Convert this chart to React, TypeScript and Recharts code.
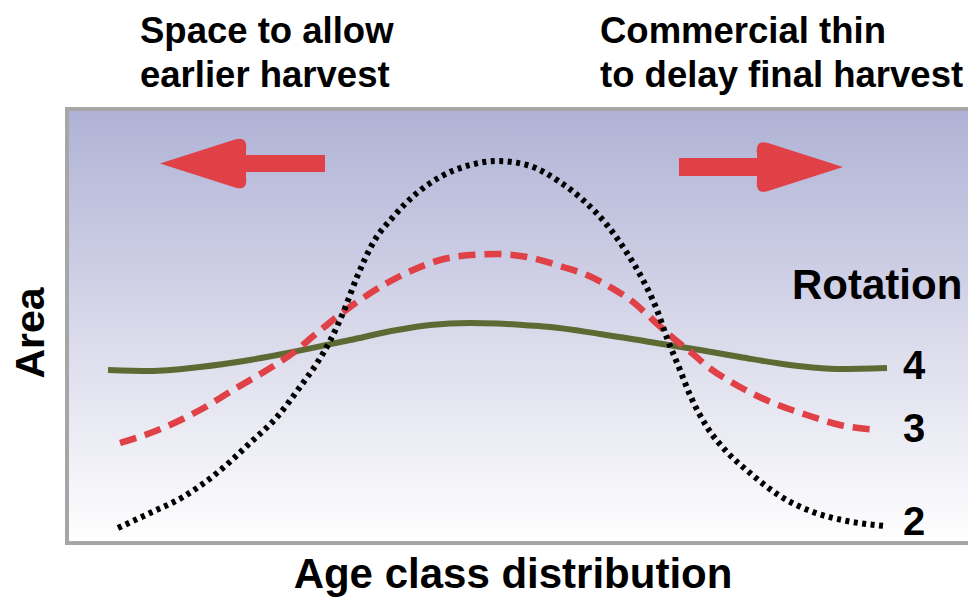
import React from 'react';
import { LineChart, Line, XAxis, YAxis, ReferenceArea, ReferenceLine, ReferenceDot } from 'recharts';

// curve points: x = age class position, y = area
const rotation2 = [
  { x: 49, y: 13 }, { x: 81, y: 28 }, { x: 114, y: 44 }, { x: 148, y: 68 }, { x: 181, y: 98 },
  { x: 208, y: 124 }, { x: 231, y: 154 }, { x: 248, y: 178 }, { x: 261, y: 200 }, { x: 274, y: 228 },
  { x: 288, y: 264 }, { x: 304, y: 298 }, { x: 324, y: 324 }, { x: 348, y: 348 }, { x: 371, y: 364 },
  { x: 401, y: 376 }, { x: 428, y: 380 }, { x: 458, y: 376 }, { x: 491, y: 359 }, { x: 514, y: 341 },
  { x: 538, y: 316 }, { x: 558, y: 288 }, { x: 574, y: 261 }, { x: 588, y: 231 }, { x: 598, y: 203 },
  { x: 611, y: 171 }, { x: 621, y: 146 }, { x: 638, y: 114 }, { x: 658, y: 89 }, { x: 681, y: 68 },
  { x: 711, y: 45 }, { x: 744, y: 29 }, { x: 778, y: 20 }, { x: 816, y: 15 },
];

const rotation3 = [
  { x: 51, y: 98 }, { x: 84, y: 109 }, { x: 131, y: 131 }, { x: 164, y: 151 }, { x: 198, y: 171 },
  { x: 224, y: 188 }, { x: 248, y: 208 }, { x: 281, y: 234 }, { x: 294, y: 243 }, { x: 318, y: 258 },
  { x: 344, y: 271 }, { x: 371, y: 281 }, { x: 401, y: 286 }, { x: 428, y: 287 }, { x: 458, y: 284 },
  { x: 494, y: 274 }, { x: 518, y: 266 }, { x: 541, y: 254 }, { x: 564, y: 239 }, { x: 584, y: 221 },
  { x: 604, y: 203 }, { x: 624, y: 187 }, { x: 638, y: 175 }, { x: 671, y: 154 }, { x: 704, y: 138 },
  { x: 738, y: 126 }, { x: 771, y: 116 }, { x: 808, y: 111 },
];

const rotation4 = [
  { x: 39, y: 171 }, { x: 81, y: 170 }, { x: 131, y: 174 }, { x: 181, y: 181 }, { x: 224, y: 189 },
  { x: 281, y: 201 }, { x: 328, y: 211 }, { x: 361, y: 216 }, { x: 401, y: 218 }, { x: 428, y: 217.5 },
  { x: 461, y: 215.5 }, { x: 481, y: 214 }, { x: 531, y: 207 }, { x: 581, y: 199 }, { x: 631, y: 191 },
  { x: 671, y: 184 }, { x: 721, y: 176 }, { x: 771, y: 172 }, { x: 818, y: 173 },
];

// arrows: shaft from tail to head, tip position
const leftArrow = { tail: 256, head: 168, tip: 91, y: 377.5 };
const rightArrow = { tail: 610, head: 700, tip: 774, y: 374 };

const RED = '#df4146';

const leftHead = (p: any) => (
  <path
    d={`M${p.cx},${p.cy} L${p.cx + 75},${p.cy - 24} Q${p.cx + 88},${p.cy - 28} ${p.cx + 86},${p.cy - 13} L${p.cx + 86},${p.cy + 13} Q${p.cx + 88},${p.cy + 28} ${p.cx + 75},${p.cy + 24} Z`}
    fill={RED}
  />
);

const rightHead = (p: any) => (
  <path
    d={`M${p.cx},${p.cy} L${p.cx - 75},${p.cy - 24} Q${p.cx - 88},${p.cy - 28} ${p.cx - 86},${p.cy - 13} L${p.cx - 86},${p.cy + 13} Q${p.cx - 88},${p.cy + 28} ${p.cx - 75},${p.cy + 24} Z`}
    fill={RED}
  />
);

const font = '"Liberation Sans", Arial, sans-serif';
const txt: React.CSSProperties = {
  position: 'absolute',
  fontFamily: font,
  fontWeight: 'bold',
  color: '#000',
  whiteSpace: 'nowrap',
};

export default function App() {
  return (
    <div style={{ position: 'relative', width: 968, height: 597, overflow: 'hidden', background: '#fff' }}>
      <style>{'body{margin:0}'}</style>
      <LineChart width={968} height={597} margin={{ top: 111, right: 0, bottom: 56, left: 69 }}>
        <defs>
          <linearGradient id="bgGrad" x1="0" y1="0" x2="0" y2="1">
            <stop offset="0%" stopColor="#afb2d5" />
            <stop offset="55%" stopColor="#dcdcec" />
            <stop offset="100%" stopColor="#ffffff" />
          </linearGradient>
        </defs>
        <XAxis type="number" dataKey="x" domain={[0, 899]} hide allowDataOverflow />
        <YAxis type="number" dataKey="y" domain={[0, 430]} hide allowDataOverflow />
        <ReferenceArea
          x1={-2}
          x2={910}
          y1={-2}
          y2={432}
          ifOverflow="visible"
          fill="url(#bgGrad)"
          fillOpacity={1}
          stroke="#a6a6a6"
          strokeWidth={4}
        />
        <Line data={rotation4} dataKey="y" type="monotone" stroke="#5e6a33" strokeWidth={6} dot={false} activeDot={false} isAnimationActive={false} />
        <Line data={rotation3} dataKey="y" type="monotone" stroke={RED} strokeWidth={6.5} strokeDasharray="17 9" dot={false} activeDot={false} isAnimationActive={false} />
        <Line data={rotation2} dataKey="y" type="monotone" stroke="#000" strokeWidth={6} strokeDasharray="4 4.5" dot={false} activeDot={false} isAnimationActive={false} />
        <ReferenceLine segment={[{ x: leftArrow.tail, y: leftArrow.y }, { x: leftArrow.head, y: leftArrow.y }]} stroke={RED} strokeWidth={17} ifOverflow="visible" />
        <ReferenceLine segment={[{ x: rightArrow.tail, y: rightArrow.y }, { x: rightArrow.head, y: rightArrow.y }]} stroke={RED} strokeWidth={18} ifOverflow="visible" />
        <ReferenceDot x={leftArrow.tip} y={leftArrow.y} r={1} shape={leftHead} ifOverflow="visible" />
        <ReferenceDot x={rightArrow.tip} y={rightArrow.y} r={1} shape={rightHead} ifOverflow="visible" />
      </LineChart>

      <div style={{ ...txt, left: 140, top: 9, fontSize: 36.5, lineHeight: '44px' }}>
        Space to allow<br />earlier harvest
      </div>
      <div style={{ ...txt, left: 600, top: 9, fontSize: 36.5, lineHeight: '44px' }}>
        Commercial thin<br />to delay final harvest
      </div>
      <div style={{ ...txt, left: 792, top: 264, fontSize: 42, lineHeight: 1 }}>Rotation</div>
      <div style={{ ...txt, left: 903, top: 345, fontSize: 40, lineHeight: 1 }}>4</div>
      <div style={{ ...txt, left: 903, top: 408, fontSize: 40, lineHeight: 1 }}>3</div>
      <div style={{ ...txt, left: 903, top: 501, fontSize: 40, lineHeight: 1 }}>2</div>
      <div
        style={{
          ...txt,
          left: 30,
          top: 333,
          fontSize: 41,
          lineHeight: 1,
          transform: 'translate(-50%, -50%) rotate(-90deg)',
        }}
      >
        Area
      </div>
      <div style={{ ...txt, left: 513, top: 553, fontSize: 42, lineHeight: 1, transform: 'translateX(-50%)' }}>
        Age class distribution
      </div>
    </div>
  );
}
